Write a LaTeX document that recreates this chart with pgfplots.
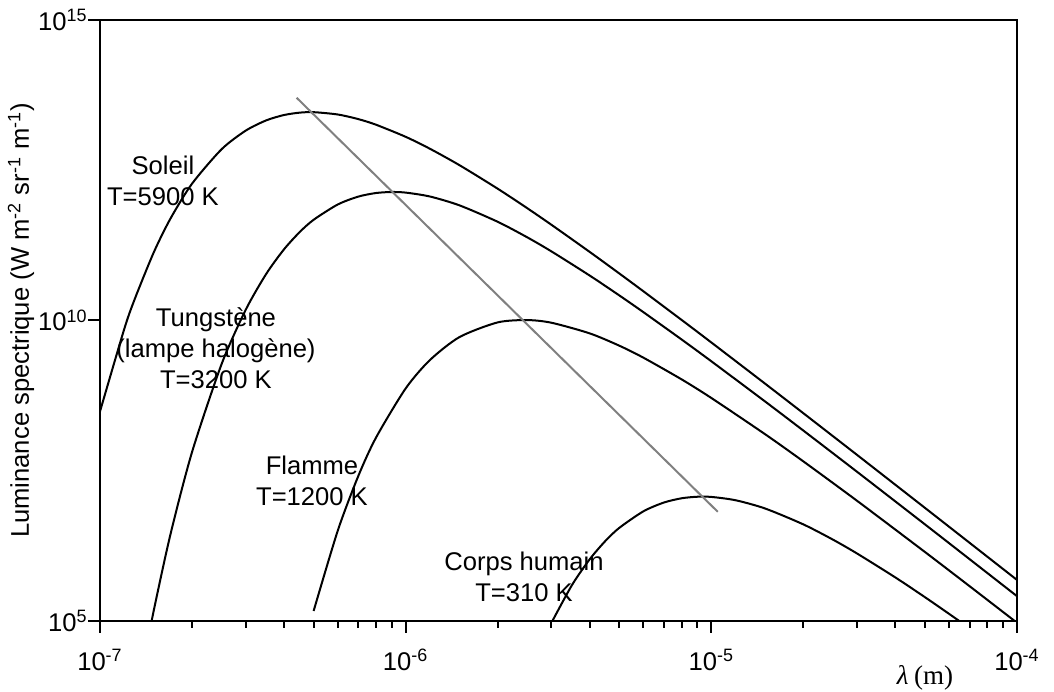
\documentclass[border=0pt]{standalone}
\usepackage{fontspec}
\setmainfont{Liberation Sans}
\newfontfamily\serif{Liberation Serif}
\usepackage{pgfplots}
\pgfplotsset{compat=1.18}
\newcommand\lbl{\fontsize{12.8}{15.5}\selectfont}

\begin{document}
\begin{tikzpicture}
\begin{axis}[
    name=ax,
    scale only axis,
    width=458.5pt,
    height=300.5pt,
    xmode=log,
    ymode=log,
    xmin=1e-7, xmax=1e-4,
    ymin=1e5, ymax=1e15,
    enlargelimits=false,
    xtick={1e-7,1e-6,1e-5,1e-4},
    xticklabels={10\textsuperscript{-7},10\textsuperscript{-6},10\textsuperscript{-5},10\textsuperscript{-4}},
    minor xtick={2e-7,3e-7,4e-7,5e-7,6e-7,7e-7,8e-7,9e-7,
                 2e-6,3e-6,4e-6,5e-6,6e-6,7e-6,8e-6,9e-6,
                 2e-5,3e-5,4e-5,5e-5,6e-5,7e-5,8e-5,9e-5},
    ytick={1e5,1e10,1e15},
    yticklabels={10\textsuperscript{5},10\textsuperscript{10},10\textsuperscript{15}},
    yminorticks=false,
    xtick pos=bottom,
    ytick pos=left,
    tick align=outside,
    major tick length=6pt,
    minor tick length=3.5pt,
    axis line style={line width=1pt},
    every tick/.style={black, line width=1pt},
    tick label style={font=\lbl},
    xticklabel style={yshift=-4.5pt},
    yticklabel style={inner xsep=0pt},
    xlabel={{\serif\fontsize{13.5}{16}\selectfont\itshape λ} {\serif\fontsize{13.5}{16}\selectfont (m)}},
    xlabel style={at={(axis description cs:0.8997,-0.0948)}, anchor=center},
    ylabel={Luminance spectrique (W m\textsuperscript{-2} sr\textsuperscript{-1} m\textsuperscript{-1})},
    ylabel style={at={(axis description cs:-0.0861,0.5)}, anchor=center, font=\lbl},
    every axis plot/.append style={line width=1pt, line join=round},
]

% Soleil T=5900 K
\addplot[black, smooth, tension=0.45] coordinates {
    (1e-7,3.055e8) (1.2e-7,7.150e9) (1.3e-7,2.287e10) (1.5e-7,1.364e11)
    (1.7e-7,4.941e11) (2e-7,1.885e12) (2.5e-7,7.077e12) (3e-7,1.446e13)
    (3.5e-7,2.138e13) (4e-7,2.623e13) (4.5e-7,2.873e13) (5e-7,2.926e13)
    (6e-7,2.676e13) (7e-7,2.244e13) (8e-7,1.810e13) (1e-6,1.139e13)
    (1.2e-6,7.218e12) (1.5e-6,3.842e12) (2e-6,1.561e12) (2.5e-6,7.383e11)
    (3e-6,3.908e11) (4e-6,1.385e11) (5e-6,6.063e10) (6e-6,3.054e10)
    (8e-6,1.020e10) (1e-5,4.313e9) (1.5e-5,8.884e8) (2e-5,2.870e8)
    (3e-5,5.787e7) (5e-5,7.625e6) (7e-5,1.999e6) (1e-4,4.825e5)
};

% Tungstene T=3200 K
\addplot[black, smooth, tension=0.45] coordinates {
    (1.4e-7,2.497e4) (1.5e-7,1.505e5) (1.7e-7,2.737e6) (2e-7,6.417e7)
    (2.5e-7,1.886e9) (3e-7,1.518e10) (3.5e-7,5.976e10) (4e-7,1.527e11)
    (4.5e-7,2.955e11) (5e-7,4.740e11)
    (6e-7,8.528e11) (7e-7,1.152e12) (8e-7,1.322e12) (9e-7,1.374e12)
    (1e-6,1.343e12) (1.2e-6,1.157e12) (1.5e-6,8.240e11) (2e-6,4.395e11)
    (2.5e-6,2.419e11) (3e-6,1.410e11) (4e-6,5.599e10) (5e-6,2.615e10)
    (6e-6,1.373e10) (8e-6,4.819e9) (1e-5,2.098e9) (1.5e-5,4.488e8)
    (2e-5,1.476e8) (3e-5,3.031e7) (5e-5,4.051e6) (7e-5,1.068e6)
    (1e-4,2.590e5)
};

% Flamme T=1200 K
\addplot[black, smooth, tension=0.45] coordinates {
    (5e-7,1.468e5) (6e-7,3.210e6) (7e-7,2.580e7) (8e-7,1.126e8)
    (1e-6,7.393e8) (1.2e-6,2.191e9) (1.5e-6,5.298e9) (2e-6,9.295e9)
    (2.5e-6,1.016e10) (3e-6,9.175e9) (4e-6,6.110e9) (5e-6,3.811e9)
    (6e-6,2.402e9) (8e-6,1.046e9) (1e-5,5.140e8) (1.5e-5,1.281e8)
    (2e-5,4.533e7) (3e-5,9.975e6) (5e-5,1.406e6) (7e-5,3.794e5)
    (1e-4,9.350e4)
};

% Corps humain T=310 K
\addplot[black, smooth, tension=0.45] coordinates {
    (3e-6,9.362e4) (3.5e-6,3.949e5) (4e-6,1.063e6) (4.5e-6,2.141e6)
    (5e-6,3.546e6) (6e-6,6.697e6) (7e-6,9.364e6) (8e-6,1.102e7)
    (9e-6,1.168e7) (1e-5,1.160e7) (1.2e-5,1.022e7) (1.5e-5,7.446e6)
    (2e-5,4.053e6) (2.5e-5,2.258e6) (3e-5,1.325e6) (4e-5,5.308e5)
    (5e-5,2.490e5) (6e-5,1.312e5) (7e-5,7.533e4) (1e-4,2.017e4)
};

% loi de Wien
\addplot[black!50] coordinates {(4.4e-7,5.08e13) (1.05e-5,6.56e6)};

\node[align=center, font=\lbl] at (rel axis cs:0.0687,0.733) {Soleil\\T=5900 K};
\node[align=center, font=\lbl] at (rel axis cs:0.1265,0.4542) {Tungstène\\(lampe halogène)\\T=3200 K};
\node[align=center, font=\lbl] at (rel axis cs:0.2312,0.2338) {Flamme\\T=1200 K};
\node[align=center, font=\lbl] at (rel axis cs:0.4624,0.074) {Corps humain\\T=310 K};
\end{axis}
\pgfresetboundingbox
\path ([shift={(-50pt,-35pt)}]ax.south west) rectangle ([shift={(18.5pt,10pt)}]ax.north east);
\end{tikzpicture}
\end{document}
